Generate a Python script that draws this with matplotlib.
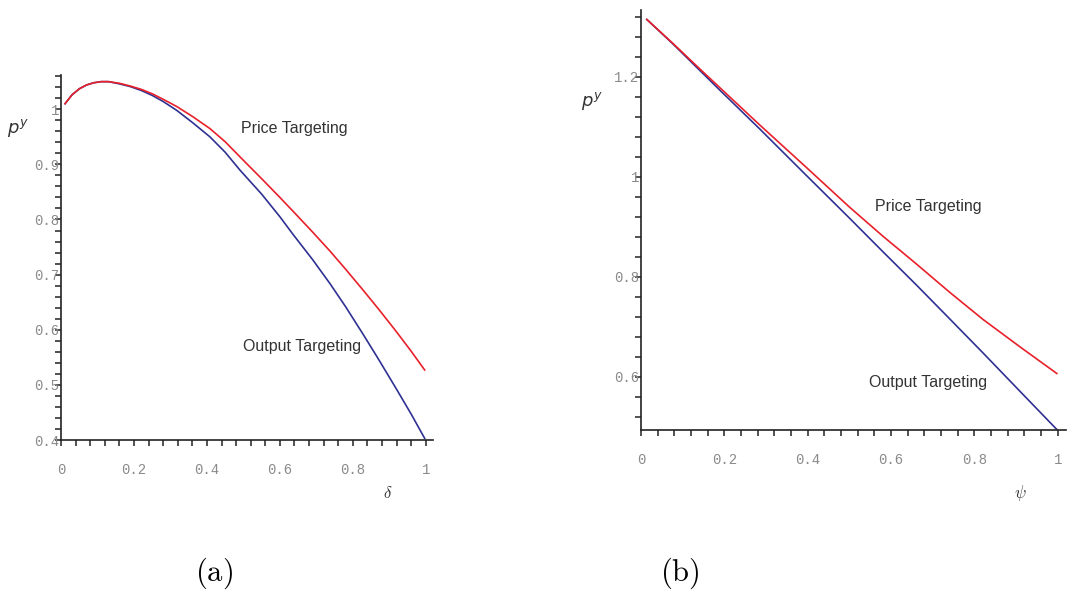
import numpy as np
import matplotlib
matplotlib.use('Agg')
import matplotlib.pyplot as plt
from matplotlib.ticker import MultipleLocator, FuncFormatter

# panel (a): p^y against delta
delta = [0.011, 0.03, 0.05, 0.07, 0.09, 0.11, 0.13, 0.16, 0.19, 0.22, 0.25,
         0.28, 0.317, 0.36, 0.408, 0.45, 0.49, 0.55, 0.60, 0.636, 0.69, 0.737,
         0.78, 0.828, 0.87, 0.92, 0.96, 0.997]
price_a = [1.010, 1.026, 1.037, 1.044, 1.048, 1.050, 1.050, 1.047, 1.042, 1.036,
           1.028, 1.018, 1.005, 0.987, 0.965, 0.941, 0.914, 0.874, 0.840, 0.815,
           0.777, 0.743, 0.710, 0.672, 0.638, 0.596, 0.561, 0.527]
output_a = [1.010, 1.026, 1.037, 1.044, 1.048, 1.050, 1.050, 1.046, 1.041, 1.034,
            1.025, 1.014, 0.998, 0.976, 0.950, 0.922, 0.890, 0.846, 0.805, 0.773,
            0.727, 0.684, 0.642, 0.592, 0.547, 0.492, 0.447, 0.403]

# panel (b): p^y against psi
psi = [0.014, 0.078, 0.14, 0.19, 0.285, 0.397, 0.50, 0.58, 0.661, 0.74, 0.821,
       0.91, 0.998]
price_b = [1.315, 1.266, 1.217, 1.178, 1.104, 1.019, 0.940, 0.882, 0.826, 0.770,
           0.715, 0.660, 0.607]
output_b = [1.315, 1.265, 1.214, 1.173, 1.096, 1.003, 0.918, 0.851, 0.784, 0.717,
            0.648, 0.571, 0.495]

RED = '#e8202a'
BLUE = '#2e3192'
TICK_GREY = '#8a8a8a'


def fmt(v, pos):
    s = '%.1f' % v
    if s.endswith('.0'):
        s = s[:-2]
    return s


def style_axes(ax, xminor, ymajor, yminor):
    for side in ['top', 'right']:
        ax.spines[side].set_visible(False)
    for side in ['left', 'bottom']:
        ax.spines[side].set_color('#222222')
        ax.spines[side].set_linewidth(1.2)
    ax.xaxis.set_major_locator(MultipleLocator(0.2))
    ax.xaxis.set_minor_locator(MultipleLocator(xminor))
    ax.yaxis.set_major_locator(MultipleLocator(ymajor))
    ax.yaxis.set_minor_locator(MultipleLocator(yminor))
    ax.xaxis.set_major_formatter(FuncFormatter(fmt))
    ax.yaxis.set_major_formatter(FuncFormatter(fmt))
    ax.tick_params(which='both', direction='out', length=4, width=1.1, color='#222222')
    ax.tick_params(axis='y', which='major', pad=-2.5, labelsize=10, labelcolor=TICK_GREY)
    ax.tick_params(axis='x', which='major', pad=12.5, labelsize=10, labelcolor=TICK_GREY)
    for lab in ax.get_xticklabels() + ax.get_yticklabels():
        lab.set_family('Liberation Mono')


fig = plt.figure(figsize=(10.69, 5.95), dpi=100)

ax1 = fig.add_axes([0.0571, 0.2605, 0.348, 0.6134])
ax1.plot(delta, price_a, color=RED, lw=1.2, zorder=3)
ax1.plot(delta, output_a, color=BLUE, lw=1.2, zorder=2)
ax1.set_xlim(0, 1.02)
ax1.set_ylim(0.4, 1.062)
style_axes(ax1, 0.04, 0.1, 0.02)
ax1.text(0.64, 0.965, 'Price Targeting', fontsize=11.5, family='Liberation Sans',
         color='#333333', ha='center', va='center')
ax1.text(0.66, 0.57, 'Output Targeting', fontsize=11.5, family='Liberation Sans',
         color='#333333', ha='center', va='center')

ax2 = fig.add_axes([0.5996, 0.2773, 0.3976, 0.706])
ax2.plot(psi, price_b, color=RED, lw=1.2, zorder=3)
ax2.plot(psi, output_b, color=BLUE, lw=1.2, zorder=2)
ax2.set_xlim(0, 1.02)
ax2.set_ylim(0.494, 1.334)
style_axes(ax2, 0.04, 0.2, 0.04)
ax2.text(0.69, 0.941, 'Price Targeting', fontsize=11.5, family='Liberation Sans',
         color='#333333', ha='center', va='center')
ax2.text(0.69, 0.588, 'Output Targeting', fontsize=11.5, family='Liberation Sans',
         color='#333333', ha='center', va='center')

# axis names and panel captions
fig.text(18 / 1069, 1 - 128 / 595, r'$p^y$', fontsize=13, math_fontfamily='dejavusans',
         color='#333333', ha='center', va='center')
fig.text(592 / 1069, 1 - 101 / 595, r'$p^y$', fontsize=13, math_fontfamily='dejavusans',
         color='#333333', ha='center', va='center')
fig.text(388 / 1069, 1 - 493 / 595, r'$\delta$', fontsize=12, math_fontfamily='cm',
         color='#333333', ha='center', va='center')
fig.text(1020 / 1069, 1 - 493 / 595, r'$\psi$', fontsize=12, math_fontfamily='cm',
         color='#333333', ha='center', va='center')
fig.text(214 / 1069, 1 - 573 / 595, r'$\mathrm{(a)}$', fontsize=22, math_fontfamily='cm',
         ha='center', va='center')
fig.text(680 / 1069, 1 - 573 / 595, r'$\mathrm{(b)}$', fontsize=22, math_fontfamily='cm',
         ha='center', va='center')

fig.savefig('out.png', dpi=100)
